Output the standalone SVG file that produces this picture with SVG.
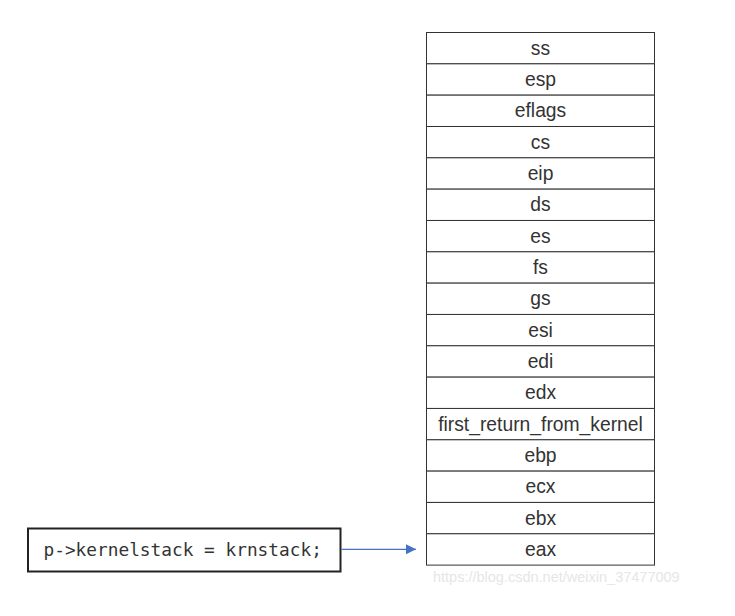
<svg xmlns="http://www.w3.org/2000/svg" width="735" height="616" viewBox="0 0 735 616">
<style>
.cell{fill:#fff;stroke:#333;stroke-width:1}
.lbl{font-family:"Liberation Sans",Arial,sans-serif;font-size:19.3px;fill:#333;text-anchor:middle}
.code{font-family:"DejaVu Sans Mono","Liberation Mono",monospace;font-size:17.8px;fill:#333}
.wm{font-family:"Liberation Sans",Arial,sans-serif;font-size:14.5px;fill:#e6e6e6}
</style>
<defs>
<marker id="ah" markerWidth="10" markerHeight="10" refX="10" refY="5" orient="auto" markerUnits="userSpaceOnUse">
<path d="M0,0 L10,5 L0,10 Z" fill="#4472C4"/>
</marker>
</defs>
<rect width="735" height="616" fill="#fff"/>
<g id="stack">
<g id="n-ss"><rect class="cell" x="426.5" y="32.5" width="228" height="31.33"/><text class="lbl" x="540.5" y="54.7">ss</text></g>
<g id="n-esp"><rect class="cell" x="426.5" y="63.83" width="228" height="31.33"/><text class="lbl" x="540.5" y="86.0">esp</text></g>
<g id="n-eflags"><rect class="cell" x="426.5" y="95.16" width="228" height="31.33"/><text class="lbl" x="540.5" y="117.3">eflags</text></g>
<g id="n-cs"><rect class="cell" x="426.5" y="126.49" width="228" height="31.33"/><text class="lbl" x="540.5" y="148.7">cs</text></g>
<g id="n-eip"><rect class="cell" x="426.5" y="157.82" width="228" height="31.33"/><text class="lbl" x="540.5" y="180.0">eip</text></g>
<g id="n-ds"><rect class="cell" x="426.5" y="189.15" width="228" height="31.33"/><text class="lbl" x="540.5" y="211.3">ds</text></g>
<g id="n-es"><rect class="cell" x="426.5" y="220.48" width="228" height="31.33"/><text class="lbl" x="540.5" y="242.7">es</text></g>
<g id="n-fs"><rect class="cell" x="426.5" y="251.81" width="228" height="31.33"/><text class="lbl" x="540.5" y="274.0">fs</text></g>
<g id="n-gs"><rect class="cell" x="426.5" y="283.14" width="228" height="31.33"/><text class="lbl" x="540.5" y="305.3">gs</text></g>
<g id="n-esi"><rect class="cell" x="426.5" y="314.47" width="228" height="31.33"/><text class="lbl" x="540.5" y="336.6">esi</text></g>
<g id="n-edi"><rect class="cell" x="426.5" y="345.8" width="228" height="31.33"/><text class="lbl" x="540.5" y="368.0">edi</text></g>
<g id="n-edx"><rect class="cell" x="426.5" y="377.13" width="228" height="31.33"/><text class="lbl" x="540.5" y="399.3">edx</text></g>
<g id="n-frfk"><rect class="cell" x="426.5" y="408.46" width="228" height="31.33"/><text class="lbl" x="540.5" y="430.6">first_return_from_kernel</text></g>
<g id="n-ebp"><rect class="cell" x="426.5" y="439.79" width="228" height="31.33"/><text class="lbl" x="540.5" y="462.0">ebp</text></g>
<g id="n-ecx"><rect class="cell" x="426.5" y="471.12" width="228" height="31.33"/><text class="lbl" x="540.5" y="493.3">ecx</text></g>
<g id="n-ebx"><rect class="cell" x="426.5" y="502.45" width="228" height="31.33"/><text class="lbl" x="540.5" y="524.6">ebx</text></g>
<g id="n-eax"><rect class="cell" x="426.5" y="533.78" width="228" height="31.33"/><text class="lbl" x="540.5" y="556.0">eax</text></g>
</g>
<g id="n-code">
<rect x="28" y="528.5" width="312.5" height="43" fill="#fff" stroke="#222" stroke-width="2"/>
<text class="code" x="43.5" y="556">p-&gt;kernelstack = krnstack;</text>
</g>
<g id="connectors">
<line x1="341.5" y1="549.3" x2="416" y2="549.3" stroke="#4472C4" stroke-width="1.2" marker-end="url(#ah)"/>
</g>
<text class="wm" x="433" y="581.5">https://blog.csdn.net/weixin_37477009</text>
</svg>
